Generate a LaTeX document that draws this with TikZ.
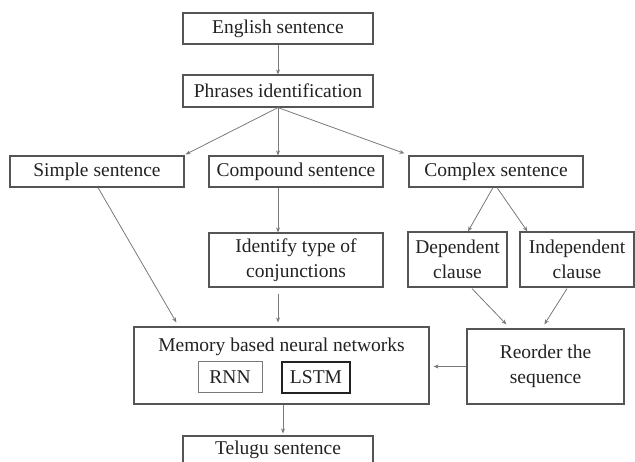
\documentclass[tikz,border=0pt]{standalone}
\usepackage{fontspec}
\setmainfont{Liberation Serif}
\usetikzlibrary{calc,arrows.meta}
\definecolor{ink}{HTML}{222222}
\definecolor{frame}{HTML}{555555}
\definecolor{wire}{HTML}{7A7A7A}
\begin{document}
\begin{tikzpicture}[x=1pt,y=-1pt,
  txt/.style={font=\fontsize{19.5}{25}\selectfont, text=ink, align=center, inner sep=0pt},
  box/.style={txt, draw=frame, line width=1.2pt, anchor=center},
  link/.style={draw=wire, line width=0.8pt, -{Stealth[length=5pt,width=4pt]}, arrows={-{Stealth[length=5pt,width=4pt,fill=ink]}}}
]
\useasboundingbox (0,0) rectangle (635,462);
\clip (0,0) rectangle (635,462);

% top of the flow
\node[box, minimum width=190pt, minimum height=31pt] (eng) at (278,28.5) {English sentence};
\node[box, minimum width=190pt, minimum height=32pt] (phr) at (278,91) {Phrases identification};

% sentence types
\node[box, minimum width=174pt, minimum height=31pt] (simple) at (97,171.5) {Simple sentence};
\node[box, minimum width=174pt, minimum height=31pt] (comp) at (296,171.5) {Compound sentence};
\node[box, minimum width=174pt, minimum height=31pt] (cplx) at (496,171.5) {Complex sentence};

% second level
\node[box, minimum width=174pt, minimum height=54pt] (ident) at (296,260) {Identify type of\\conjunctions};
\node[box, minimum width=99pt, minimum height=55pt] (dep) at (457.5,259.5) {Dependent\\clause};
\node[box, minimum width=114pt, minimum height=55pt] (indep) at (577,259.5) {Independent\\clause};

% networks and reordering
\node[box, minimum width=295pt, minimum height=77pt] (mem) at (281.5,365.5) {};
\node[txt] (memlabel) at (281.5,347) {Memory based neural networks};
\node[box, draw=wire, line width=1pt, minimum width=64pt, minimum height=31pt] (rnn) at (230,377.5) {RNN};
\node[box, draw=ink, line width=1.4pt, minimum width=68pt, minimum height=31pt] (lstm) at (316,377.5) {LSTM};
\node[box, minimum width=157pt, minimum height=75pt] (reord) at (545.5,366.5) {Reorder the\\sequence};

% output
\node[box, minimum width=190pt, minimum height=40pt, text depth=0pt] (tel) at (278,456) {};
\node[txt] (tellabel) at (278,450) {Telugu sentence};

% connectors
\draw[link] (eng.south) -- (phr.north);
\draw[link] (phr.south) -- ($(simple.north east)+(1,-1)$);
\draw[link] (phr.south) -- (phr.south |- comp.north);
\draw[link] (phr.south) -- ($(cplx.north west)+(-4,-2)$);
\draw[link] (phr.south |- comp.south) -- (phr.south |- ident.north);
\draw[link] ($(simple.south)+(1,0)$) -- ($(mem.north west)+(43,-4)$);
\draw[link] ($(phr.south |- ident.south)+(0,6)$) -- ($(phr.south |- mem.north)+(0,-4)$);
\draw[link] ($(cplx.south)+(-3,0)$) -- ($(dep.north)+(10.5,0)$);
\draw[link] ($(cplx.south)+(1,0)$) -- ($(indep.north west)+(8,0)$);
\draw[link] ($(dep.south)+(14.5,1)$) -- ($(reord.north west)+(40,-4)$);
\draw[link] ($(indep.south)+(-10,1)$) -- ($(reord.north west)+(78,-4)$);
\draw[link] (reord.west) -- ($(mem.east |- reord.west)+(4,0)$);
\draw[link] ($(mem.south)+(1.5,0)$) -- ($(tel.north)+(5,-2)$);
\end{tikzpicture}
\end{document}
